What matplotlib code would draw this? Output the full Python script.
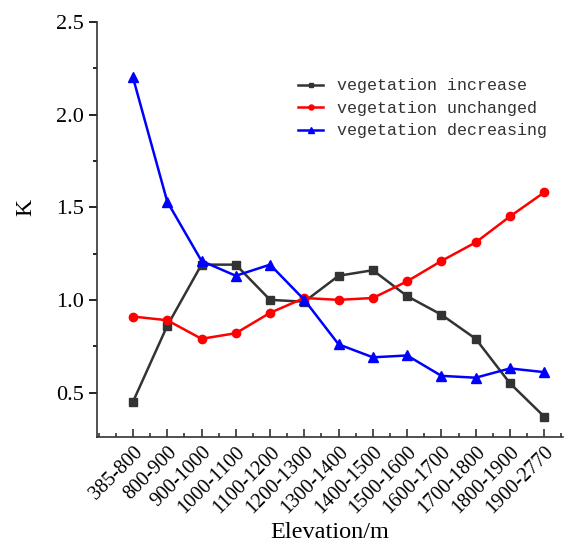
import numpy as np
import matplotlib
matplotlib.use("Agg")
import matplotlib.pyplot as plt
import matplotlib.transforms as mtransforms
from matplotlib.ticker import MultipleLocator

#%% Datos
tramos = ["385-800", "800-900", "900-1000", "1000-1100", "1100-1200", "1200-1300",
          "1300-1400", "1400-1500", "1500-1600", "1600-1700", "1700-1800",
          "1800-1900", "1900-2770"]
aumento = [0.45, 0.86, 1.19, 1.19, 1.00, 0.99, 1.13, 1.16, 1.02, 0.92, 0.79, 0.55, 0.37]
sin_cambio = [0.91, 0.89, 0.79, 0.82, 0.93, 1.01, 1.00, 1.01, 1.10, 1.21, 1.31, 1.45, 1.58]
disminucion = [2.20, 1.53, 1.21, 1.13, 1.19, 1.00, 0.76, 0.69, 0.70, 0.59, 0.58, 0.63, 0.61]

#%% Gráfico
plt.rcParams["font.family"] = ["Liberation Serif"]
fig = plt.figure(figsize=(5.79, 5.42), dpi=100)
ax = fig.add_axes([0.1675, 0.1937, 0.805, 0.766])

x = np.arange(len(tramos))
ax.plot(x, aumento, color="#333333", marker="s", markersize=6, linewidth=1.8,
        label="vegetation increase")
ax.plot(x, sin_cambio, color="#ff0000", marker="o", markersize=6, linewidth=1.8,
        label="vegetation unchanged")
ax.plot(x, disminucion, color="#0000ff", marker="^", markersize=7, linewidth=1.8,
        label="vegetation decreasing")

ax.set_xlim(-1.05, 12.55)
ax.set_ylim(0.26, 2.5)
ax.set_xticks(x)
ax.set_xticklabels(tramos, rotation=45, ha="right", rotation_mode="anchor", fontsize=14.5)
desplazar = mtransforms.ScaledTranslation(0.14, 0, fig.dpi_scale_trans)
for etiqueta in ax.get_xticklabels():
    etiqueta.set_transform(etiqueta.get_transform() + desplazar)
ax.xaxis.set_minor_locator(MultipleLocator(0.5))
ax.yaxis.set_major_locator(MultipleLocator(0.5))
ax.yaxis.set_minor_locator(MultipleLocator(0.25))
ax.tick_params(axis="x", which="both", direction="in", colors="#333333", labelcolor="black")
ax.tick_params(axis="x", which="major", length=6, width=1.2, pad=4)
ax.tick_params(axis="x", which="minor", length=3, width=1.2)
ax.tick_params(axis="y", which="major", direction="out", length=6, width=1.2, labelsize=16)
ax.tick_params(axis="y", which="minor", direction="out", length=3, width=1.2)

for lado in ["top", "right"]:
    ax.spines[lado].set_visible(False)
for lado in ["left", "bottom"]:
    ax.spines[lado].set_linewidth(1.2)
    ax.spines[lado].set_color("#333333")

ax.set_ylabel("K", fontsize=17, labelpad=14)
ax.yaxis.label.set_y(0.554)
ax.set_xlabel("Elevation/m", fontsize=17.5, labelpad=3)

ax.legend(loc="upper left", bbox_to_anchor=(0.40, 0.90), frameon=False,
          prop={"family": "Liberation Mono", "size": 12}, handlelength=1.5,
          handletextpad=0.8, labelspacing=0.45, markerscale=0.6,
          labelcolor="#333333")

plt.savefig("out.png", dpi=100)
